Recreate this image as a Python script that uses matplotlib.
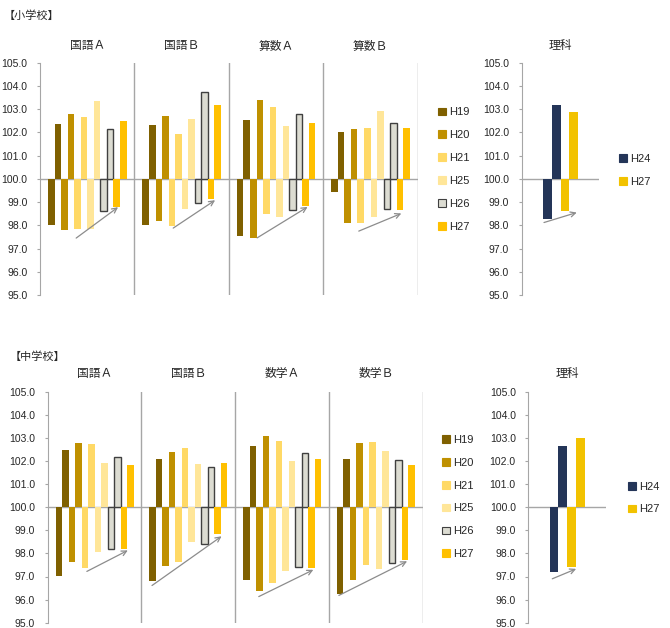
import matplotlib.pyplot as plt
from matplotlib.patches import Patch

plt.rcParams['font.family'] = ['Noto Sans CJK JP', 'DejaVu Sans']

# series
years = ['H19', 'H20', 'H21', 'H25', 'H26', 'H27']
year_colors = ['#7F6000', '#BF9000', '#FFD966', '#FFE699', '#DCDCD2', '#FFC000']
sci_years = ['H24', 'H27']
sci_colors = ['#243558', '#F2C200']

# 小学校
elem_subjects = ['国語Ａ', '国語Ｂ', '算数Ａ', '算数Ｂ']
elem_low = [
    [98.00, 97.80, 97.85, 97.86, 98.60, 98.80],
    [98.00, 98.18, 97.96, 98.72, 98.95, 99.12],
    [97.55, 97.46, 98.47, 98.36, 98.68, 98.82],
    [99.43, 98.10, 98.08, 98.34, 98.70, 98.68],
]
elem_high = [
    [102.37, 102.78, 102.65, 103.35, 102.15, 102.50],
    [102.30, 102.70, 101.95, 102.58, 103.73, 103.17],
    [102.55, 103.40, 103.11, 102.27, 102.81, 102.42],
    [102.00, 102.15, 102.20, 102.93, 102.42, 102.20],
]
elem_sci_low = [98.26, 98.62]
elem_sci_high = [103.20, 102.88]
# trend arrows: (bar slot, value)
elem_arrow_tail = [(4.3, 97.45), (4.7, 97.88), (3.1, 97.46), (4.2, 97.75)]
elem_arrow_head = [(10.7, 98.78), (11.1, 99.08), (10.8, 98.79), (10.7, 98.51)]
elem_sci_arrow = [(0.1, 98.12), (3.87, 98.55)]

# 中学校
jhs_subjects = ['国語Ａ', '国語Ｂ', '数学Ａ', '数学Ｂ']
jhs_low = [
    [97.01, 97.63, 97.36, 98.04, 98.17, 98.17],
    [96.80, 97.45, 97.63, 98.48, 98.41, 98.83],
    [96.83, 96.39, 96.72, 97.22, 97.40, 97.36],
    [96.25, 96.85, 97.50, 97.32, 97.60, 97.72],
]
jhs_high = [
    [102.48, 102.78, 102.74, 101.90, 102.16, 101.83],
    [102.08, 102.40, 102.57, 101.88, 101.73, 101.93],
    [102.63, 103.09, 102.86, 101.99, 102.35, 102.08],
    [102.08, 102.78, 102.81, 102.42, 102.06, 101.83],
]
jhs_sci_low = [97.21, 97.39]
jhs_sci_high = [102.66, 103.00]
jhs_arrow_tail = [(4.8, 97.22), (0.4, 96.61), (2.4, 96.13), (0.3, 96.18)]
jhs_arrow_head = [(11.1, 98.13), (11.1, 98.74), (10.8, 97.29), (10.8, 97.66)]
jhs_sci_arrow = [(0.29, 96.9), (3.03, 97.33)]

W, H = 670, 628
GRID = '#A6A6A6'
TEXT = '#262626'
ARROW = '#8C8C8C'
LATIN = 'Liberation Sans'


def px_axes(fig, x0, y0, x1, y1):
    return fig.add_axes([x0 / W, 1 - y1 / H, (x1 - x0) / W, (y1 - y0) / H])


def style_axis(ax, pad):
    ax.set_ylim(95, 105)
    ax.set_yticks(range(95, 106))
    ax.set_yticklabels([f'{v:.1f}' for v in range(95, 106)],
                       fontfamily=LATIN, fontsize=7.5)
    ax.set_xticks([])
    for s in ['top', 'right', 'bottom']:
        ax.spines[s].set_visible(False)
    ax.spines['left'].set_color(GRID)
    ax.tick_params(axis='y', length=2.5, color=GRID, labelcolor=TEXT, pad=pad)
    ax.axhline(100, color=GRID, lw=1, zorder=1)


def bar_style(k):
    if years[k] == 'H26':
        return dict(color=year_colors[k], edgecolor='#404040', linewidth=1.0)
    return dict(color=year_colors[k], linewidth=0)


def arrow(ax, tail, head):
    ax.annotate('', xy=head, xytext=tail,
                arrowprops=dict(arrowstyle='->', color=ARROW, lw=0.9,
                                mutation_scale=9, shrinkA=0, shrinkB=0))


def draw_main(ax, subjects, low, high, tails, heads, pad, title_y):
    w, x0 = 0.0693, 0.085
    ax.set_xlim(0, 4)
    style_axis(ax, pad)
    for g in range(len(subjects)):
        for k in range(len(years)):
            x = g + x0 + 2 * k * w
            ax.bar(x, low[g][k] - 100, bottom=100, width=w, align='edge',
                   zorder=2, **bar_style(k))
            ax.bar(x + w, high[g][k] - 100, bottom=100, width=w,
                   align='edge', zorder=2, **bar_style(k))
        ax.axvline(g + 1, color=GRID, lw=1, zorder=1)
        ax.text(g + 0.5, title_y, subjects[g], transform=ax.get_xaxis_transform(),
                ha='center', va='center', fontsize=8.5, color=TEXT)
        sx, sy = tails[g]
        hx, hy = heads[g]
        arrow(ax, (g + x0 + sx * w, sy), (g + x0 + hx * w, hy))


def draw_sci(ax, low, high, arr, pad, title_y):
    w, x0 = 0.112, 0.276
    ax.set_xlim(0, 1)
    style_axis(ax, pad)
    for k in range(len(sci_years)):
        x = x0 + 2 * k * w
        ax.bar(x, low[k] - 100, bottom=100, width=w, align='edge',
               color=sci_colors[k], linewidth=0, zorder=2)
        ax.bar(x + w, high[k] - 100, bottom=100, width=w, align='edge',
               color=sci_colors[k], linewidth=0, zorder=2)
    ax.text(0.5, title_y, '理科', transform=ax.transAxes,
            ha='center', va='center', fontsize=8.5, color=TEXT)
    (sx, sy), (hx, hy) = arr
    arrow(ax, (x0 + sx * w, sy), (x0 + hx * w, hy))


def legend(fig, labels, colors, x, y, edges=None):
    handles = []
    for i, (lab, c) in enumerate(zip(labels, colors)):
        ec = edges[i] if edges else c
        handles.append(Patch(facecolor=c, edgecolor=ec, linewidth=0.8, label=lab))
    fig.legend(handles=handles, loc='center left',
               bbox_to_anchor=(x / W, 1 - y / H), frameon=False,
               prop={'family': LATIN, 'size': 8}, handlelength=0.7,
               handleheight=0.7, handletextpad=0.3, labelspacing=1.16,
               borderpad=0, borderaxespad=0, labelcolor=TEXT)


fig = plt.figure(figsize=(W / 100, H / 100), dpi=100)

edge_list = ['#404040' if y == 'H26' else c for y, c in zip(years, year_colors)]

# 小学校
ax1 = px_axes(fig, 40, 62.7, 417.7, 295)
draw_main(ax1, elem_subjects, elem_low, elem_high,
          elem_arrow_tail, elem_arrow_head, pad=6.5, title_y=1.072)
ax2 = px_axes(fig, 521.7, 62.7, 599.3, 295)
draw_sci(ax2, elem_sci_low, elem_sci_high, elem_sci_arrow, pad=6.5, title_y=1.072)
fig.text(4 / W, 1 - 16 / H, '【小学校】', fontsize=8, color=TEXT, va='center')
legend(fig, years, year_colors, 438, 169.5, edge_list)
legend(fig, sci_years, sci_colors, 619, 170.5)

# 中学校
ax3 = px_axes(fig, 47.7, 391.7, 422.7, 622.7)
draw_main(ax3, jhs_subjects, jhs_low, jhs_high,
          jhs_arrow_tail, jhs_arrow_head, pad=6.5, title_y=1.078)
ax4 = px_axes(fig, 528.3, 391.7, 606, 622.7)
draw_sci(ax4, jhs_sci_low, jhs_sci_high, jhs_sci_arrow, pad=6.5, title_y=1.078)
fig.text(10 / W, 1 - 356.7 / H, '【中学校】', fontsize=8, color=TEXT, va='center')
legend(fig, years, year_colors, 442, 497, edge_list)
legend(fig, sci_years, sci_colors, 628, 498)

fig.savefig('out.png', dpi=100)
